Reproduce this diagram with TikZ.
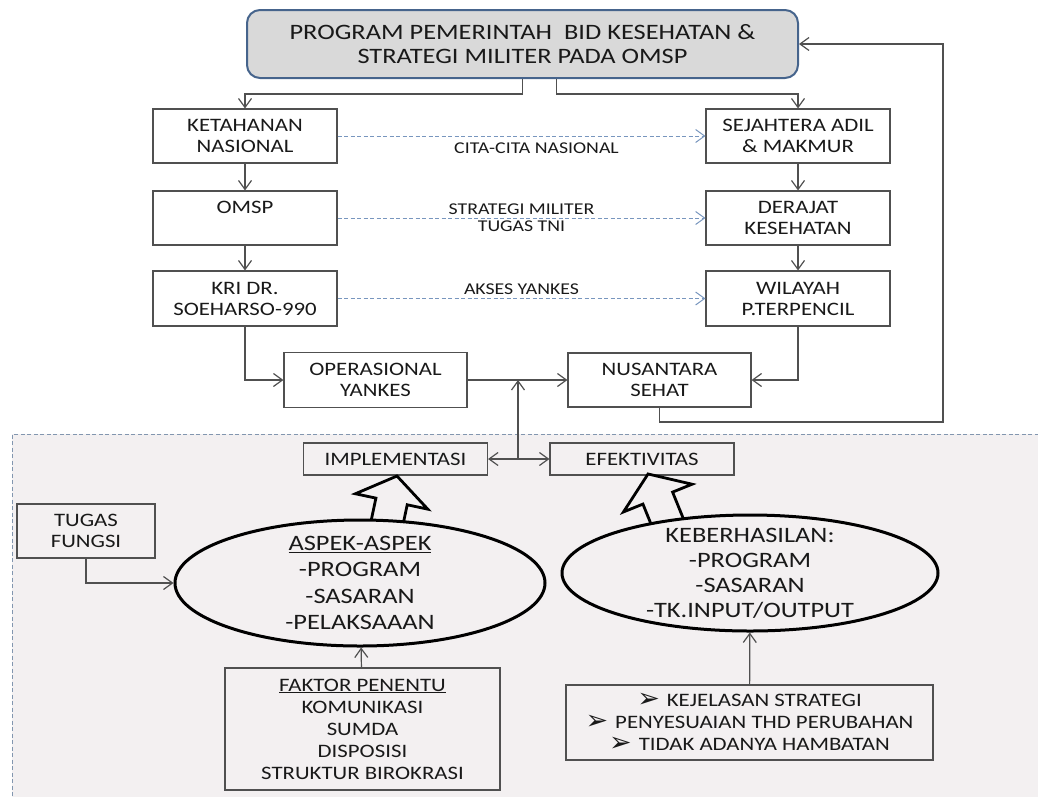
\documentclass[tikz,border=0pt]{standalone}
\usepackage{fontspec}
\setmainfont{Carlito}[FakeStretch=1.2]
\newfontfamily\dingfont{DejaVu Sans}
\usetikzlibrary{shapes, arrows.meta}

\definecolor{txt}{RGB}{25,25,25}
\definecolor{linegray}{RGB}{80,80,80}
\definecolor{progline}{RGB}{70,100,140}
\definecolor{dashblue}{RGB}{120,150,190}
\definecolor{areafill}{RGB}{243,240,241}
\definecolor{arealine}{RGB}{130,150,175}

\newcommand{\arrowbullet}{\raisebox{-1pt}{\dingfont\fontsize{27}{22}\selectfont ➢}\hspace{7pt}}

\begin{document}
\begin{tikzpicture}[x=1pt, y=1pt]
    \tikzstyle{box} = [draw=linegray, line width=1.1pt, align=center, text=txt,
        minimum width=184pt, minimum height=54pt, inner sep=2pt,
        font=\fontsize{19}{21}\selectfont]
    \tikzstyle{lbl} = [align=center, text=txt, inner sep=1pt,
        font=\fontsize{16.5}{17}\selectfont]
    \tikzstyle{conn} = [linegray, line width=1.2pt, -{Straight Barb[length=9pt,width=13pt]}]
    \tikzstyle{dconn} = [dashblue, line width=1pt, dash pattern=on 4pt off 2.5pt,
        -{Straight Barb[length=9pt,width=13pt]}]
    \tikzstyle{oval} = [ellipse, draw=black, fill=areafill, line width=3pt]
    \tikzstyle{ovaltext} = [align=center, text=txt, font=\fontsize{22}{26.5}\selectfont]
    \tikzstyle{bigarrow} = [draw=black, fill=areafill, line width=2.8pt, line join=miter]

    \useasboundingbox (0,0) rectangle (1038,-796);

    % lower area
    \fill[areafill] (12,-434) rectangle (1045,-800);
    \draw[arealine, line width=1pt, dash pattern=on 4pt off 2.5pt]
        (1045,-434) -- (12,-434) -- (12,-800);

    % top
    \node[draw=progline, line width=2pt, fill=gray!30, rounded corners=13pt,
        minimum width=551pt, minimum height=68pt, align=center, text=txt,
        font=\fontsize{22}{24}\selectfont] (prog) at (522.5,-44)
        {PROGRAM PEMERINTAH\ \ BID KESEHATAN \&\\STRATEGI MILITER PADA OMSP};

    \node[box] (ket) at (245,-136) {KETAHANAN\\NASIONAL};
    \node[box] (omsp) at (245,-218) {OMSP\\~};
    \node[box, minimum height=55pt] (kri) at (245,-298.5) {KRI DR.\\SOEHARSO-990};
    \node[box] (sej) at (798,-136) {SEJAHTERA ADIL\\\& MAKMUR};
    \node[box] (der) at (798,-218) {DERAJAT\\KESEHATAN};
    \node[box, minimum height=55pt] (wil) at (798,-298.5) {WILAYAH\\P.TERPENCIL};
    \node[box, minimum width=183pt, minimum height=55pt] (oper) at (375.5,-380) {OPERASIONAL\\YANKES};
    \node[box, minimum width=183pt] (nus) at (659.5,-380) {NUSANTARA\\SEHAT};

    % bottom
    \node[box, minimum height=32pt] (impl) at (395.5,-459) {IMPLEMENTASI};
    \node[box, minimum height=32pt] (efek) at (642,-459) {EFEKTIVITAS};
    \node[box, minimum width=138pt] (tugas) at (86,-531) {TUGAS\\FUNGSI};
    \node[box, minimum width=275pt, minimum height=122pt, font=\fontsize{19}{22}\selectfont]
        (faktor) at (362.5,-729)
        {\underline{FAKTOR PENENTU}\\KOMUNIKASI\\SUMDA\\DISPOSISI\\STRUKTUR BIROKRASI};
    \node[box, minimum width=367pt, minimum height=75pt, font=\fontsize{19}{22}\selectfont]
        (kejel) at (749.5,-722.5)
        {\arrowbullet KEJELASAN STRATEGI\\\arrowbullet PENYESUAIAN THD PERUBAHAN\\\arrowbullet TIDAK ADANYA HAMBATAN};

    % block arrows
    \draw[bigarrow, shift={(384.5,-534.7)}, rotate=78]
        (0,-16) -- (34,-16) -- (34,-37) -- (60,0) -- (34,37) -- (34,16) -- (0,16) -- cycle;
    \draw[bigarrow, shift={(670.5,-529.6)}, rotate=112]
        (0,-16) -- (34,-16) -- (34,-37) -- (60,0) -- (34,37) -- (34,16) -- (0,16) -- cycle;

    \node[oval, minimum width=370pt, minimum height=126pt] (aspek) at (360,-583) {};
    \node[ovaltext] (aspektxt) at (aspek) {\underline{ASPEK-ASPEK}\\-PROGRAM\\-SASARAN\\-PELAKSAAAN};
    \node[oval, minimum width=376pt, minimum height=116pt] (keber) at (750,-573) {};
    \node[ovaltext, font=\fontsize{22}{25}\selectfont] (kebertxt) at (keber)
        {KEBERHASILAN:\\-PROGRAM\\-SASARAN\\-TK.INPUT/OUTPUT};

    % connectors
    \draw[conn] (prog.south) -- ++(0,-15) -| (ket.north);
    \draw[conn] ([xshift=34pt]prog.south) -- ++(0,-15) -| (sej.north);
    \draw[conn] (ket) -- (omsp);
    \draw[conn] (omsp) -- (kri);
    \draw[conn] (sej) -- (der);
    \draw[conn] (der) -- (wil);
    \draw[dconn] (ket) -- (sej) node[lbl, midway, below=5pt, xshift=15pt] {CITA-CITA NASIONAL};
    \draw[dconn] (omsp) -- (der) node[lbl, midway] {STRATEGI MILITER\\TUGAS TNI};
    \draw[dconn] (kri) -- (wil) node[lbl, midway, above=2pt] {AKSES YANKES};
    \draw[conn] (kri.south) |- (oper.west);
    \draw[conn] (wil.south) |- (nus.east);
    \draw[conn] (oper) -- (nus);
    \coordinate (back) at (943,-422);
    \draw[conn] (nus.south) |- (back) |- (prog.east);
    \coordinate (hub) at (518,-459);
    \draw[conn] (hub) -- (hub |- oper.east);
    \draw[conn] (hub) -- (impl.east);
    \draw[conn] (hub) -- (efek.west);
    \draw[conn] (tugas.south) |- (aspek.west);
    \draw[conn] (faktor) -- (aspek);
    \draw[conn] (kejel) -- (keber);
\end{tikzpicture}
\end{document}
